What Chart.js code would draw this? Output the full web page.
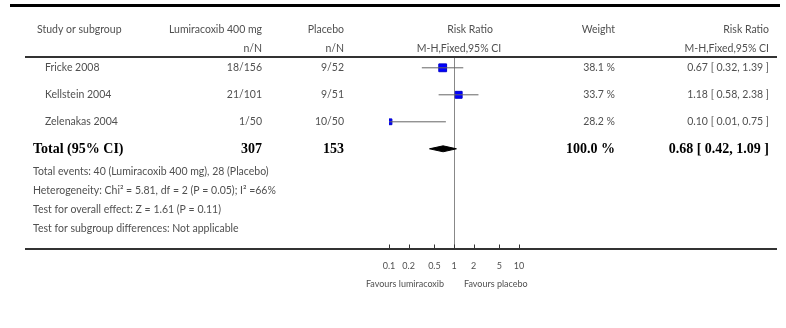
<!DOCTYPE html>
<html><head><meta charset="utf-8">
<script src="https://cdn.jsdelivr.net/npm/chart.js@4/dist/chart.umd.min.js"></script>
<style>html,body{margin:0;padding:0;background:#fff}#wrap{width:786px;height:328px;position:relative}</style>
</head><body><div id="wrap"><canvas id="c"></canvas></div>
<script>
// ---- data ----
const studies = ['Fricke 2008', 'Kellstein 2004', 'Zelenakas 2004'];
const lumEvents = [18, 21, 1];
const lumTotal = [156, 101, 50];
const plaEvents = [9, 9, 10];
const plaTotal = [52, 51, 50];
const riskRatio = [0.67, 1.18, 0.10];
const ciLow = [0.32, 0.58, 0.01];
const ciHigh = [1.39, 2.38, 0.75];
const weights = [38.1, 33.7, 28.2];
const totalN = [307, 153];
const pooled = [0.68, 0.42, 1.09];
const totalWeight = [100.0];
const tickValues = [0.1, 0.2, 0.5, 1, 2, 5, 10];
const tickLabels = ['0.1', '0.2', '0.5', '1', '2', '5', '10'];
const headers = ['Study or subgroup', 'Lumiracoxib 400 mg', 'Placebo', 'Risk Ratio', 'Weight', 'Risk Ratio'];
const subHeaders = ['n/N', 'n/N', 'M-H,Fixed,95% CI', 'M-H,Fixed,95% CI'];
const footerLines = [
  'Total events: 40 (Lumiracoxib 400 mg), 28 (Placebo)',
  'Heterogeneity: Chi\u00B2 = 5.81, df = 2 (P = 0.05); I\u00B2 =66%',
  'Test for overall effect: Z = 1.61 (P = 0.11)',
  'Test for subgroup differences: Not applicable'
];
const favourLabels = ['Favours lumiracoxib', 'Favours placebo'];

// ---- layout ----
const SANS = '"Lato", "Open Sans", sans-serif';
const SERIF = '"Liberation Serif", "DejaVu Serif", serif';
const TXT = '#505050';
const ROW_OFF = 0.4;
const totalRow = studies.length + ROW_OFF;
const f2 = v => v.toFixed(2);

const datasets = [];
studies.forEach((s, i) => {
  datasets.push({
    data: [{x: ciLow[i], y: i + ROW_OFF}, {x: ciHigh[i], y: i + ROW_OFF}],
    showLine: true, borderColor: '#666', borderWidth: 1, pointRadius: 0, clip: 0
  });
});
datasets.push({
  data: studies.map((s, i) => ({x: riskRatio[i], y: i + ROW_OFF})),
  pointStyle: 'rect', pointRadius: weights.map(w => w * 0.145),
  backgroundColor: '#0000ff', borderColor: '#0000cc', borderWidth: 1, showLine: false, clip: 0
});
datasets.push({
  data: [
    {x: pooled[1], y: totalRow}, {x: pooled[0], y: totalRow - 0.11},
    {x: pooled[2], y: totalRow}, {x: pooled[0], y: totalRow + 0.11}, {x: pooled[1], y: totalRow}
  ],
  showLine: true, fill: 'shape', backgroundColor: '#000', borderColor: '#000', borderWidth: 1,
  pointRadius: 0, tension: 0, clip: 0
});

const tablePlugin = {
  id: 'table',
  beforeDatasetsDraw(chart) {
    const ctx = chart.ctx, x = chart.scales.x;
    const x1 = x.getPixelForValue(1);
    ctx.save();
    ctx.strokeStyle = '#888'; ctx.lineWidth = 1;
    ctx.beginPath(); ctx.moveTo(Math.round(x1) + 0.5, 57); ctx.lineTo(Math.round(x1) + 0.5, 249); ctx.stroke();
    ctx.restore();
  },
  afterDraw(chart) {
    const ctx = chart.ctx, x = chart.scales.x, y = chart.scales.y;
    ctx.save();
    // rules
    ctx.strokeStyle = '#000'; ctx.lineWidth = 3;
    ctx.beginPath(); ctx.moveTo(10, 5.5); ctx.lineTo(780, 5.5); ctx.stroke();
    ctx.strokeStyle = '#333'; ctx.lineWidth = 2;
    ctx.beginPath(); ctx.moveTo(25, 57); ctx.lineTo(777, 57); ctx.stroke();
    ctx.beginPath(); ctx.moveTo(25, 249); ctx.lineTo(777, 249); ctx.stroke();
    // axis tick marks (pointing up from axis line)
    ctx.strokeStyle = '#333'; ctx.lineWidth = 1;
    tickValues.forEach(v => {
      const px = Math.round(x.getPixelForValue(v)) + 0.5;
      ctx.beginPath(); ctx.moveTo(px, 244.5); ctx.lineTo(px, 249); ctx.stroke();
    });

    const text = (t, px, py, align, font, color) => {
      ctx.font = font; ctx.fillStyle = color || TXT; ctx.textAlign = align; ctx.textBaseline = 'middle';
      ctx.fillText(t, px, py);
    };
    const F = '10.5px ' + SANS;
    const FB = 'bold 14px ' + SERIF;
    // headers
    text(headers[0], 37, 30, 'left', F);
    text(headers[1], 262, 30, 'right', F);
    text(headers[2], 344, 30, 'right', F);
    text(headers[3], 470, 30, 'center', F);
    text(headers[4], 615, 30, 'right', F);
    text(headers[5], 769, 30, 'right', F);
    text(subHeaders[0], 262, 49, 'right', F);
    text(subHeaders[1], 344, 49, 'right', F);
    text(subHeaders[2], 459, 49, 'center', F);
    text(subHeaders[3], 769, 49, 'right', F);
    // study rows
    studies.forEach((s, i) => {
      const py = y.getPixelForValue(i + ROW_OFF);
      text(s, 45, py, 'left', F);
      text(lumEvents[i] + '/' + lumTotal[i], 262, py, 'right', F);
      text(plaEvents[i] + '/' + plaTotal[i], 344, py, 'right', F);
      text(weights[i].toFixed(1) + ' %', 615, py, 'right', F);
      text(f2(riskRatio[i]) + ' [ ' + f2(ciLow[i]) + ', ' + f2(ciHigh[i]) + ' ]', 769, py, 'right', F);
    });
    // total row
    const ty = y.getPixelForValue(totalRow);
    text('Total (95% CI)', 33, ty + 1, 'left', FB, '#000');
    text(String(totalN[0]), 262, ty + 1, 'right', FB, '#000');
    text(String(totalN[1]), 344, ty + 1, 'right', FB, '#000');
    text(totalWeight[0].toFixed(1) + ' %', 615, ty + 1, 'right', FB, '#000');
    text(f2(pooled[0]) + ' [ ' + f2(pooled[1]) + ', ' + f2(pooled[2]) + ' ]', 769, ty + 1, 'right', FB, '#000');
    // footer
    footerLines.forEach((l, k) => text(l, 33, ty + 23 + k * 19, 'left', F));
    // favours
    const x1 = x.getPixelForValue(1);
    text(favourLabels[0], x1 - 10, 284, 'right', '9px ' + SANS);
    text(favourLabels[1], x1 + 10, 284, 'left', '9px ' + SANS);
    ctx.restore();
  }
};

new Chart(document.getElementById('c'), {
  type: 'scatter',
  data: {datasets},
  options: {
    responsive: true, maintainAspectRatio: false, animation: false,
    layout: {padding: {left: 389, right: 267, top: 57, bottom: 0}},
    plugins: {legend: {display: false}, tooltip: {enabled: false}},
    scales: {
      x: {
        type: 'logarithmic', min: 0.1, max: 10, position: 'bottom',
        afterBuildTicks: s => { s.ticks = tickValues.map(v => ({value: v})); },
        afterFit: s => { s.height = 83; },
        border: {display: false},
        grid: {display: false},
        ticks: {
          autoSkip: false, maxRotation: 0, padding: 8, color: TXT,
          font: {family: SANS, size: 9},
          callback: (v, i) => tickLabels[i]
        }
      },
      y: {type: 'linear', min: 0, max: 188 / 27, reverse: true, display: false}
    }
  },
  plugins: [tablePlugin]
});
</script>
</body></html>
